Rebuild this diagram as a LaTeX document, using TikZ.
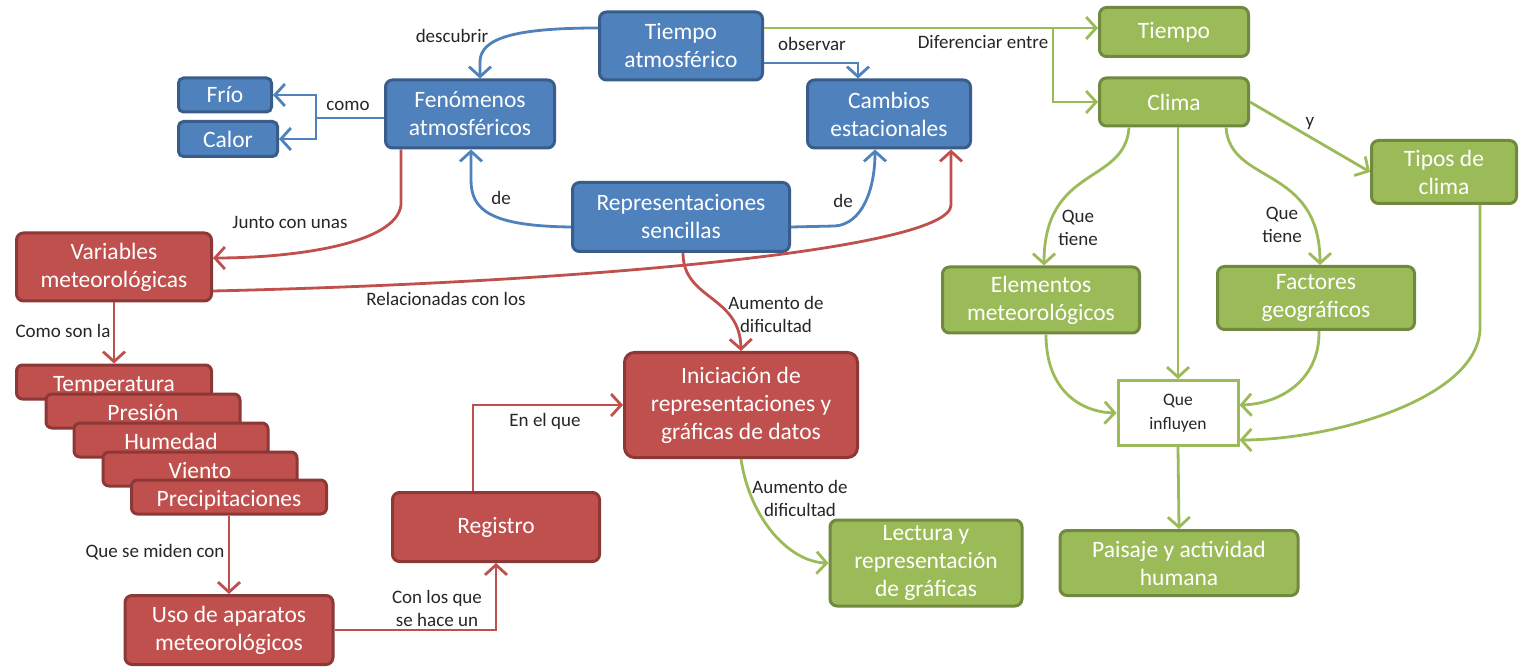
\documentclass[tikz,border=0pt]{standalone}
\usepackage{fontspec}
\setmainfont{Carlito}
\usetikzlibrary{arrows.meta,calc}
\definecolor{bfill}{HTML}{4F81BD}
\definecolor{bdraw}{HTML}{385D8A}
\definecolor{rfill}{HTML}{C0504D}
\definecolor{rdraw}{HTML}{8C3836}
\definecolor{gfill}{HTML}{9BBB59}
\definecolor{gdraw}{HTML}{71893F}
\definecolor{txt}{HTML}{262626}
\tikzset{
  box/.style={rounded corners=7pt, line width=3pt, text=white, align=center, inner sep=0pt,
    font=\fontsize{23.5}{28}\selectfont},
  bbox/.style={box, fill=bfill, draw=bdraw},
  rbox/.style={box, fill=rfill, draw=rdraw},
  gbox/.style={box, fill=gfill, draw=gdraw},
  stepbox/.style={rbox, minimum height=34pt, text height=18pt, text depth=0pt, rounded corners=6pt},
  lbl/.style={text=txt, align=center, inner sep=0pt, font=\fontsize{19}{23}\selectfont},
  con/.style={line width=2.8pt, -{Straight Barb[length=10pt,width=22pt]}},
  bl/.style={con, draw=bfill},
  rd/.style={con, draw=rfill},
  gr/.style={con, draw=gfill},
  plain/.style={line width=2.8pt}
}
\begin{document}
\begin{tikzpicture}[x=1pt,y=-1pt]
\useasboundingbox[fill=white] (0,0) rectangle (1529,668);

% ---- blue nodes
\node[bbox, minimum width=163pt, minimum height=68pt] (tatm) at (681,46) {Tiempo\\atmosférico};
\node[bbox, minimum width=169pt, minimum height=68pt] (fen) at (470,114) {Fenómenos\\atmosféricos};
\node[bbox, minimum width=93pt, minimum height=34pt, rounded corners=5pt] (frio) at (225,95) {Frío};
\node[bbox, minimum width=99pt, minimum height=35pt, rounded corners=5pt] (calor) at (228,139) {Calor};
\node[bbox, minimum width=163pt, minimum height=68pt] (camb) at (889,114) {Cambios\\estacionales};
\node[bbox, minimum width=217pt, minimum height=69pt] (repr) at (681,217) {Representaciones\\sencillas};

% ---- red nodes
\node[rbox, minimum width=195pt, minimum height=68pt] (vari) at (114,267) {Variables\\meteorológicas};
\node[stepbox, minimum width=195pt] (temp) at (114,382) {Temperatura};
\node[stepbox, minimum width=194pt] (pres) at (143,411) {Presión};
\node[stepbox, minimum width=194pt] (hum) at (171,440) {Humedad};
\node[stepbox, minimum width=194pt] (vie) at (200,469) {Viento};
\node[stepbox, minimum width=195pt] (prec) at (229,497) {Precipitaciones};
\node[rbox, minimum width=208pt, minimum height=69pt] (uso) at (229,630) {Uso de aparatos\\meteorológicos};
\node[rbox, minimum width=207pt, minimum height=69pt] (reg) at (496,527) {Registro};
\node[rbox, minimum width=233pt, minimum height=105pt, rounded corners=10pt] (ini) at (741,405) {Iniciación de\\representaciones y\\gráficas de datos};

% ---- green nodes
\node[gbox, minimum width=192pt, minimum height=86pt] (lect) at (926,563) {Lectura y\\representación\\de gráficas};
\node[gbox, minimum width=149pt, minimum height=49pt] (tiem) at (1174,32) {Tiempo};
\node[gbox, minimum width=149pt, minimum height=48pt] (clima) at (1174,102) {Clima};
\node[gbox, minimum width=145pt, minimum height=63pt] (tipos) at (1444,172) {Tipos de\\clima};
\node[gbox, minimum width=197pt, minimum height=66pt] (elem) at (1041,300) {Elementos\\meteorológicos};
\node[gbox, minimum width=197pt, minimum height=63pt] (fact) at (1316,298) {Factores\\geográficos};
\node[draw=gfill, fill=white, line width=3pt, minimum width=120pt, minimum height=65pt, inner sep=0pt,
      align=center, text=txt, font=\fontsize{17.5}{24}\selectfont] (infl) at (1178,413) {Que\\influyen};
\node[gbox, minimum width=238pt, minimum height=65pt] (pais) at (1179,563) {Paisaje y actividad\\humana};

% ---- blue connectors
\draw[bl] ($(tatm.west)+(0,-18)$) .. controls (515,28) and (480,38) .. (480,62) -- ($(fen.north)+(10,0)$);
\node[lbl] (l1) at (452,36) {descubrir};
\draw[bl] ($(tatm.east)+(0,17)$) -| ($(camb.north)+(-31,0)$);
\node[lbl] (l2) at (812,44) {observar};
\draw[plain, draw=bfill] ($(fen.west)+(0,4)$) -- (316,118) coordinate (como);
\draw[bl] (como) |- (frio.east);
\draw[bl] (como) |- (calor.east);
\node[lbl] (l3) at (348,106) {como};
\draw[bl] ($(repr.west)+(0,10)$) .. controls (490,226) and (471,210) .. (471,180) -- ($(fen.south)+(1,0)$);
\node[lbl] (l4) at (501,198) {de};
\draw[bl] ($(repr.east)+(0,10)$) -- (835,226) .. controls (862,224) and (875,190) .. ($(camb.south)+(-14,0)$);
\node[lbl] (l5) at (843,201) {de};

% ---- green top connectors
\draw[gr] ($(tatm.east)+(0,-18)$) coordinate (g0) -- (g0 -| tiem.west);
\draw[gr] (1053,28) |- (clima.west);
\node[lbl] (l6) at (983,42) {Diferenciar entre};

% ---- red connectors
\draw[rd] ($(fen.south)+(-69,0)$) -- (401,205) .. controls (396,245) and (290,258) .. ($(vari.east)+(0,-9)$);
\node[lbl] (l7) at (290,222) {Junto con unas};
\draw[rd] ($(vari.east)+(0,24)$) .. controls (600,282) and (951,248) .. (951,205) -- ($(camb.south)+(62,0)$);
\node[lbl] (l8) at (446,299) {Relacionadas con los};
\draw[rd] (vari.south) -- (temp.north);
\node[lbl] (l9) at (63,331) {Como son la};
\draw[rd] (prec.south) -- (uso.north);
\node[lbl] (l10) at (155,552) {Que se miden con};
\draw[rd] (uso.east) -| (reg.south);
\node[lbl] (l11) at (437,608) {Con los que\\se hace un};
\draw[rd] ($(reg.north)+(-23,0)$) |- (ini.west);
\node[lbl] (l12) at (545,421) {En el que};
\draw[rd] ($(repr.south)+(2,0)$) .. controls (683,300) and (740,295) .. (ini.north);
\node[lbl] (l13) at (776,314) {Aumento de\\dificultad};
\draw[gr] (ini.south) .. controls (750,520) and (790,562) .. (lect.west);
\node[lbl] (l14) at (800,498) {Aumento de\\dificultad};

% ---- green lower connectors
\draw[gr] (clima.east) -- (tipos.west);
\node[lbl] (l15) at (1310,123) {y};
\draw[gr] ($(clima.south)+(-45,0)$) .. controls (1125,185) and (1044,165) .. ($(elem.north)+(3,0)$);
\node[lbl] (l16) at (1078,228) {Que\\tiene};
\draw[gr] ($(clima.south)+(52,0)$) .. controls (1230,185) and (1320,165) .. ($(fact.north)+(4,0)$);
\node[lbl] (l17) at (1282,225) {Que\\tiene};
\draw[gr] (clima.south -| infl.north) -- (infl.north);
\draw[gr] ($(elem.south)+(5,0)$) .. controls (1046,390) and (1080,412) .. (infl.west);
\draw[gr] ($(fact.south)+(3,0)$) .. controls (1320,380) and (1280,404) .. ($(infl.east)+(0,-8)$);
\draw[gr] ($(tipos.south)+(36,0)$) -- (1480,330) .. controls (1476,400) and (1330,440) .. ($(infl.east)+(0,27)$);
\draw[gr] (infl.south) -- (pais.north);
\end{tikzpicture}
\end{document}
